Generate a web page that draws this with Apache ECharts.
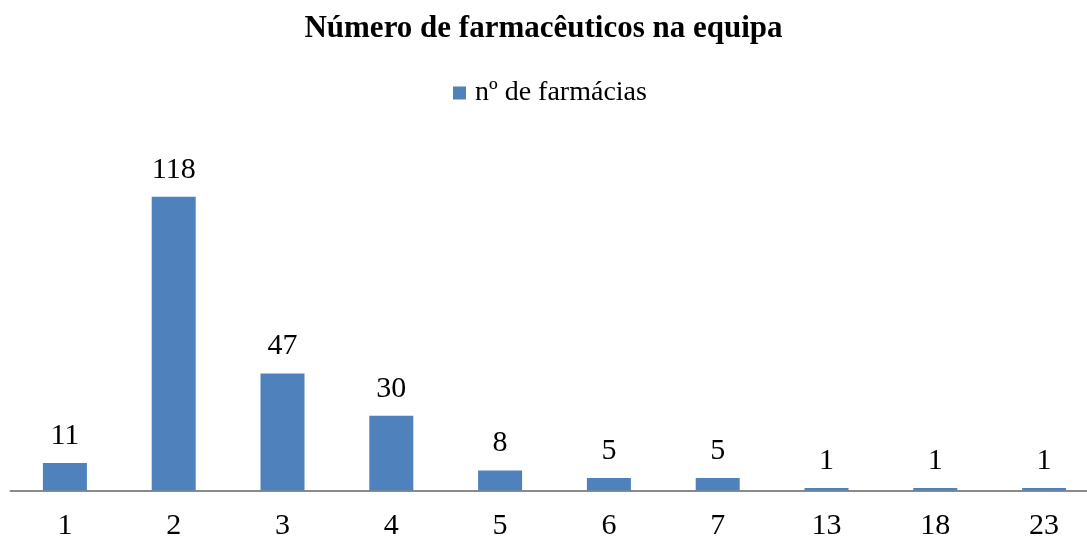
<!DOCTYPE html>
<html>
<head>
<meta charset="utf-8">
<script src="https://cdn.jsdelivr.net/npm/echarts@6/dist/echarts.min.js"></script>
<style>
  html, body { margin: 0; padding: 0; background: #fff; }
  #chart { width: 1087px; height: 537px; }
</style>
</head>
<body>
<div id="chart"></div>
<script>
const categories = ['1', '2', '3', '4', '5', '6', '7', '13', '18', '23']
const farmacias = [11, 118, 47, 30, 8, 5, 5, 1, 1, 1]
const serif = "'Liberation Serif', 'Times New Roman', serif"

const chart = echarts.init(document.getElementById('chart'))
chart.setOption({
  animation: false,
  title: {
    text: 'Número de farmacêuticos na equipa',
    left: 'center',
    top: 8,
    textStyle: { fontFamily: serif, fontSize: 31, fontWeight: 'bold', color: '#000' },
  },
  legend: {
    data: ['nº de farmácias'],
    top: 74,
    left: 448,
    itemWidth: 13,
    itemHeight: 13,
    icon: 'rect',
    textStyle: { fontFamily: serif, fontSize: 28, color: '#000', padding: [0, 0, 0, 4] },
  },
  grid: { left: 10.5, width: 1088, top: 142, height: 348.5, outerBoundsMode: 'none', containLabel: false },
  xAxis: {
    type: 'category',
    data: categories,
    axisLine: { lineStyle: { color: '#8a8a8a', width: 2 } },
    axisTick: { show: false },
    axisLabel: { fontFamily: serif, fontSize: 30, color: '#000', margin: 21 },
  },
  yAxis: {
    type: 'value',
    min: 0,
    max: 140,
    show: false,
    splitLine: { show: false },
  },
  series: [
    {
      name: 'nº de farmácias',
      type: 'bar',
      data: farmacias,
      barWidth: 44,
      itemStyle: { color: '#4F81BD' },
      label: {
        show: true,
        position: 'top',
        distance: 12,
        fontFamily: serif,
        fontSize: 30,
        color: '#000',
      },
    },
  ],
})
</script>
</body>
</html>
